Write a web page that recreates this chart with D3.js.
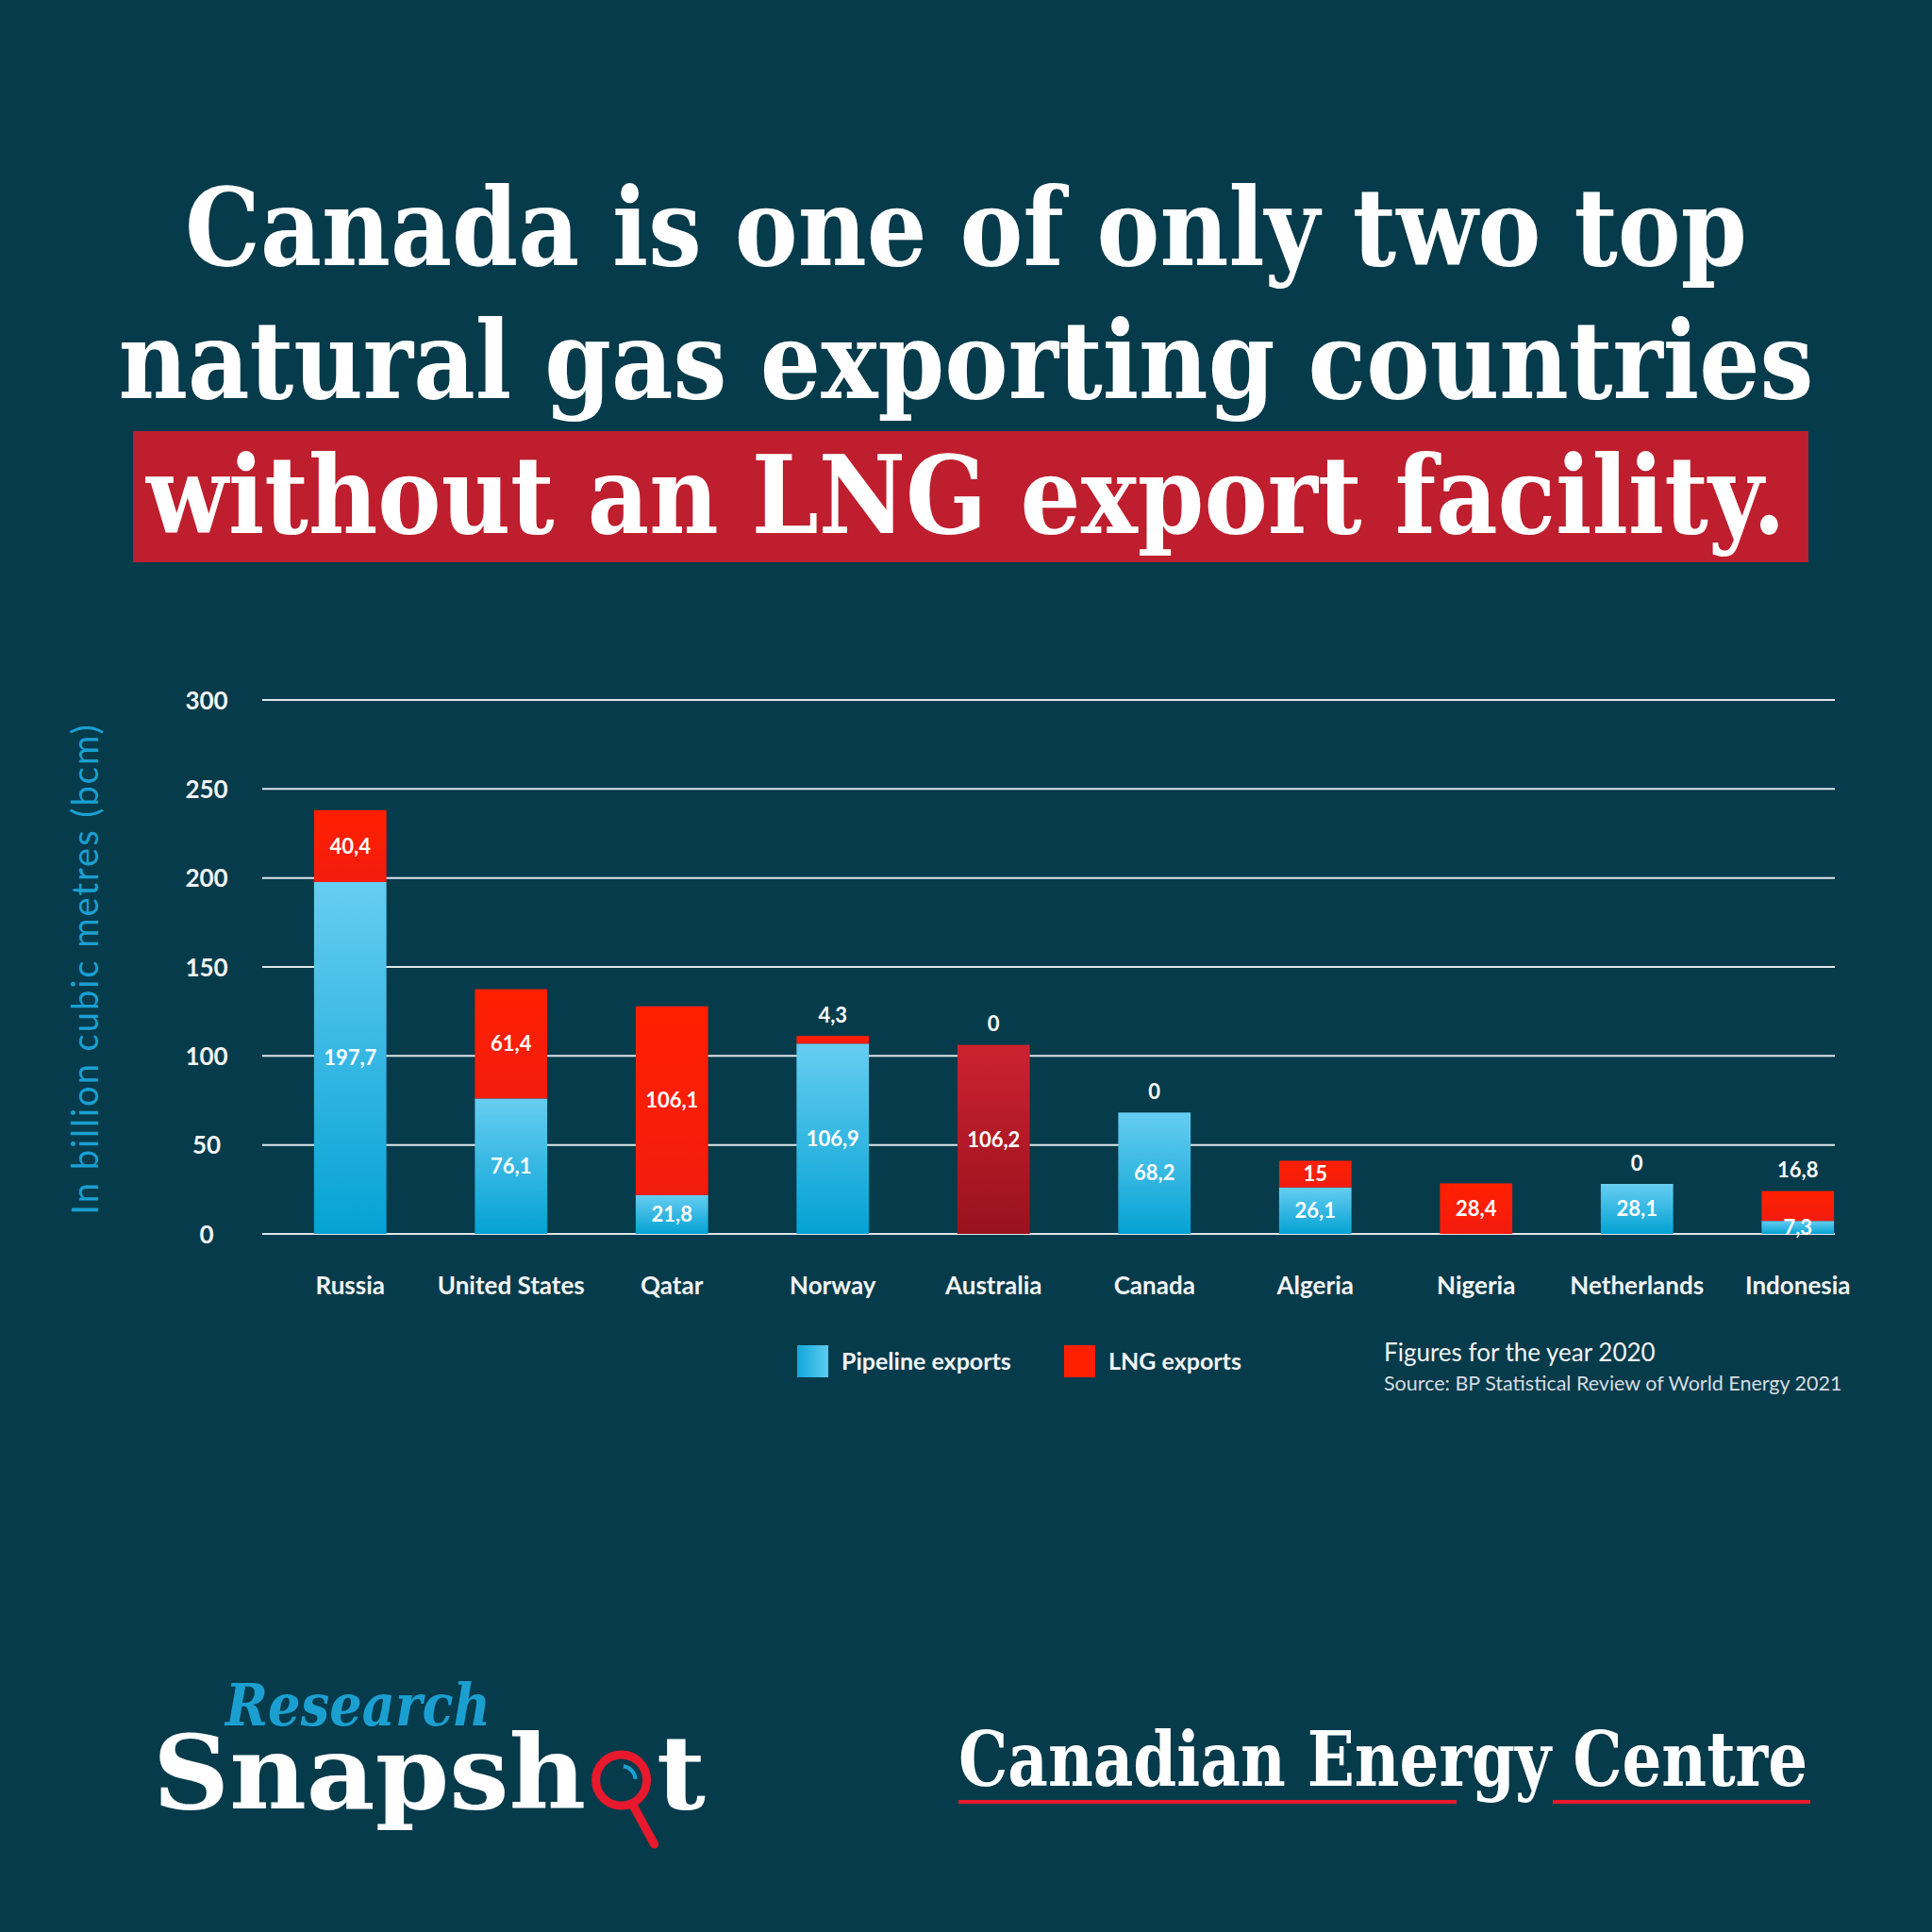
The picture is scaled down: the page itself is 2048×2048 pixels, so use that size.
<!DOCTYPE html>
<html>
<head>
<meta charset="utf-8">
<script src="https://cdn.jsdelivr.net/npm/d3@7"></script>
<style>
  html, body { margin: 0; padding: 0; background: #063b4b; }
  svg { display: block; }
</style>
</head>
<body>
<svg id="chart" width="2048" height="2048"></svg>
<script>
// ---- data ----
const countries = ["Russia", "United States", "Qatar", "Norway", "Australia", "Canada", "Algeria", "Nigeria", "Netherlands", "Indonesia"];
const pipeline = [197.7, 76.1, 21.8, 106.9, 0, 68.2, 26.1, 0, 28.1, 7.3];
const lng = [40.4, 61.4, 106.1, 4.3, 106.2, 0, 15, 28.4, 0, 16.8];
const pipelineLabels = ["197,7", "76,1", "21,8", "106,9", "0", "68,2", "26,1", null, "28,1", "7,3"];
const lngLabels = ["40,4", "61,4", "106,1", "4,3", "106,2", "0", "15", "28,4", "0", "16,8"];
const lngLabelOutside = [false, false, false, true, false, true, false, false, true, true];
const yTicks = [0, 50, 100, 150, 200, 250, 300];
const titleLines = ["Canada is one of only two top", "natural gas exporting countries", "without an LNG export facility."];
const legendItems = ["Pipeline exports", "LNG exports"];

const BG = "#063b4b";
const svg = d3.select("#chart");
svg.append("rect").attr("width", 2048).attr("height", 2048).attr("fill", BG);

const defs = svg.append("defs");
const gBlue = defs.append("linearGradient").attr("id", "gBlue").attr("x1", 0).attr("y1", 0).attr("x2", 0).attr("y2", 1);
gBlue.append("stop").attr("offset", "0%").attr("stop-color", "#66cdf1");
gBlue.append("stop").attr("offset", "100%").attr("stop-color", "#05a2d4");
const gRed = defs.append("linearGradient").attr("id", "gRed").attr("x1", 0).attr("y1", 0).attr("x2", 0).attr("y2", 1);
gRed.append("stop").attr("offset", "0%").attr("stop-color", "#ff2000");
gRed.append("stop").attr("offset", "100%").attr("stop-color", "#f21c0e");
const gDark = defs.append("linearGradient").attr("id", "gDark").attr("x1", 0).attr("y1", 0).attr("x2", 0).attr("y2", 1);
gDark.append("stop").attr("offset", "0%").attr("stop-color", "#cc2230");
gDark.append("stop").attr("offset", "100%").attr("stop-color", "#98121d");
const gLegBlue = defs.append("linearGradient").attr("id", "gLegBlue").attr("x1", 0).attr("y1", 0).attr("x2", 1).attr("y2", 0);
gLegBlue.append("stop").attr("offset", "0%").attr("stop-color", "#12a8da");
gLegBlue.append("stop").attr("offset", "100%").attr("stop-color", "#5ccaf0");

// ---- title ----
const titleW = [1656, 1797, 1738];
const titleY = [281, 422, 565];
svg.append("rect").attr("x", 141).attr("y", 457).attr("width", 1776).attr("height", 139).attr("fill", "#be1e2d");
svg.selectAll("text.title").data(titleLines).join("text")
  .attr("class", "title")
  .attr("transform", (d, i) => `translate(1024,${titleY[i]}) scale(1,1.22)`)
  .attr("text-anchor", "middle")
  .attr("font-family", "DejaVu Serif")
  .attr("font-weight", "bold")
  .attr("font-size", 94)
  .attr("textLength", (d, i) => titleW[i])
  .attr("lengthAdjust", "spacingAndGlyphs")
  .attr("fill", "#ffffff")
  .text(d => d);

// ---- chart ----
const x = d3.scaleBand().domain(countries).range([286, 1991]).paddingInner(0.55).paddingOuter(0.275);
const y = d3.scaleLinear().domain([0, 300]).range([1308, 742]);
const gridX0 = 278, gridX1 = 1945;

const grid = svg.append("g");
grid.selectAll("line").data(yTicks).join("line")
  .attr("x1", gridX0).attr("x2", gridX1)
  .attr("y1", d => y(d)).attr("y2", d => y(d))
  .attr("stroke", "#dfe6ea").attr("stroke-width", 2);

const yAxis = d3.axisLeft(y).tickValues(yTicks).tickSize(0).tickPadding(0);
const yg = svg.append("g").attr("transform", "translate(219,0)").call(yAxis);
yg.select(".domain").remove();
yg.selectAll("text").attr("text-anchor", "middle").attr("dy", "0.35em")
  .attr("font-family", "Lato").attr("font-weight", "bold").attr("font-size", 26).attr("fill", "#f2f4f5");

const xAxis = d3.axisBottom(x).tickSize(0).tickPadding(0);
const xg = svg.append("g").attr("transform", "translate(0,1363)").call(xAxis);
xg.select(".domain").remove();
xg.selectAll("text").attr("dy", "0.35em")
  .attr("font-family", "Lato").attr("font-weight", "bold").attr("font-size", 26).attr("fill", "#f2f4f5");

svg.append("text")
  .attr("transform", "translate(104,1027) rotate(-90)")
  .attr("text-anchor", "middle")
  .attr("font-family", "Lato").attr("font-size", 38).attr("letter-spacing", 2)
  .attr("fill", "#1b9fd1")
  .text("In billion cubic metres (bcm)");

const rows = countries.map((c, i) => ({ c, i, p: pipeline[i], l: lng[i] }));
const bars = svg.append("g");
// pipeline
bars.selectAll("rect.pipe").data(rows.filter(d => d.p > 0)).join("rect")
  .attr("class", "pipe")
  .attr("x", d => x(d.c)).attr("width", x.bandwidth())
  .attr("y", d => y(d.p)).attr("height", d => y(0) - y(d.p))
  .attr("fill", "url(#gBlue)");
// lng
bars.selectAll("rect.lng").data(rows.filter(d => d.l > 0)).join("rect")
  .attr("class", "lng")
  .attr("x", d => x(d.c)).attr("width", x.bandwidth())
  .attr("y", d => y(d.p + d.l)).attr("height", d => y(d.p) - y(d.p + d.l))
  .attr("fill", d => d.c === "Australia" ? "url(#gDark)" : "url(#gRed)");

// labels
const labelData = [];
rows.forEach(d => {
  const cx = x(d.c) + x.bandwidth() / 2;
  const top = y(d.p + d.l);
  const pl = pipelineLabels[d.i], ll = lngLabels[d.i];
  if (d.c === "Australia") {
    labelData.push({ x: cx, y: top - 22, t: pl });
    labelData.push({ x: cx, y: y(d.l / 2), t: ll });
    return;
  }
  if (pl !== null) labelData.push({ x: cx, y: y(d.p / 2), t: pl });
  if (lngLabelOutside[d.i]) {
    labelData.push({ x: cx, y: top - 22, t: ll });
  } else {
    labelData.push({ x: cx, y: y(d.p + d.l / 2), t: ll });
  }
});
svg.append("g").selectAll("text").data(labelData).join("text")
  .attr("x", d => d.x).attr("y", d => d.y).attr("dy", "0.35em")
  .attr("text-anchor", "middle")
  .attr("font-family", "Lato").attr("font-weight", "bold").attr("font-size", 22)
  .attr("fill", "#ffffff")
  .text(d => d.t);

// legend
const legX = [845, 1128];
const legFill = ["url(#gLegBlue)", "#ff2000"];
const leg = svg.append("g");
legendItems.forEach((t, i) => {
  leg.append("rect").attr("x", legX[i]).attr("y", 1426).attr("width", 33).attr("height", 34).attr("fill", legFill[i]);
  leg.append("text").attr("x", legX[i] + 47).attr("y", 1443).attr("dy", "0.35em")
    .attr("font-family", "Lato").attr("font-weight", "bold").attr("font-size", 25).attr("fill", "#f2f4f5").text(t);
});
svg.append("text").attr("x", 1467).attr("y", 1434).attr("dy", "0.35em")
  .attr("font-family", "Lato").attr("font-size", 26).attr("fill", "#f2f4f5").text("Figures for the year 2020");
svg.append("text").attr("x", 1467).attr("y", 1466).attr("dy", "0.35em")
  .attr("font-family", "Lato").attr("font-size", 21.5).attr("fill", "#d5dde1").text("Source: BP Statistical Review of World Energy 2021");

// ---- footer logos ----
svg.append("text").attr("x", 239).attr("y", 1829)
  .attr("font-family", "DejaVu Serif").attr("font-weight", "bold").attr("font-style", "italic")
  .attr("font-size", 62).attr("textLength", 281).attr("lengthAdjust", "spacingAndGlyphs")
  .attr("fill", "#1b9fd1").text("Research");
const snap = svg.append("text").attr("x", 162).attr("y", 1917)
  .attr("font-family", "DejaVu Serif").attr("font-weight", "bold")
  .attr("font-size", 108).attr("textLength", 586).attr("lengthAdjust", "spacingAndGlyphs")
  .attr("fill", "#ffffff");
snap.append("tspan").text("Snapsh");
snap.append("tspan").attr("fill", "none").text("o");
snap.append("tspan").text("t");
// magnifier for the "o"
const ob = snap.node().getExtentOfChar(6);
const mcx = ob.x + ob.width / 2, mcy = 1917 - 30;
const mag = svg.append("g");
mag.append("circle").attr("cx", mcx).attr("cy", mcy).attr("r", 27).attr("fill", "none").attr("stroke", "#e8192c").attr("stroke-width", 9);
mag.append("path").attr("d", d3.arc()({ innerRadius: 13, outerRadius: 17, startAngle: 0.15, endAngle: 1.5 }))
  .attr("transform", `translate(${mcx},${mcy})`).attr("fill", "#1b9fd1");
mag.append("line").attr("x1", mcx + 12).attr("y1", mcy + 26).attr("x2", mcx + 35).attr("y2", mcy + 68)
  .attr("stroke", "#e8192c").attr("stroke-width", 9).attr("stroke-linecap", "round");

svg.append("text").attr("transform", "translate(1016,1893) scale(1,1.22)")
  .attr("font-family", "DejaVu Serif").attr("font-weight", "bold")
  .attr("font-size", 66).attr("textLength", 900).attr("lengthAdjust", "spacingAndGlyphs")
  .attr("fill", "#ffffff").text("Canadian Energy Centre");
svg.append("line").attr("x1", 1016).attr("x2", 1544).attr("y1", 1910).attr("y2", 1910).attr("stroke", "#e8192c").attr("stroke-width", 4);
svg.append("line").attr("x1", 1646).attr("x2", 1919).attr("y1", 1910).attr("y2", 1910).attr("stroke", "#e8192c").attr("stroke-width", 4);
</script>
</body>
</html>
